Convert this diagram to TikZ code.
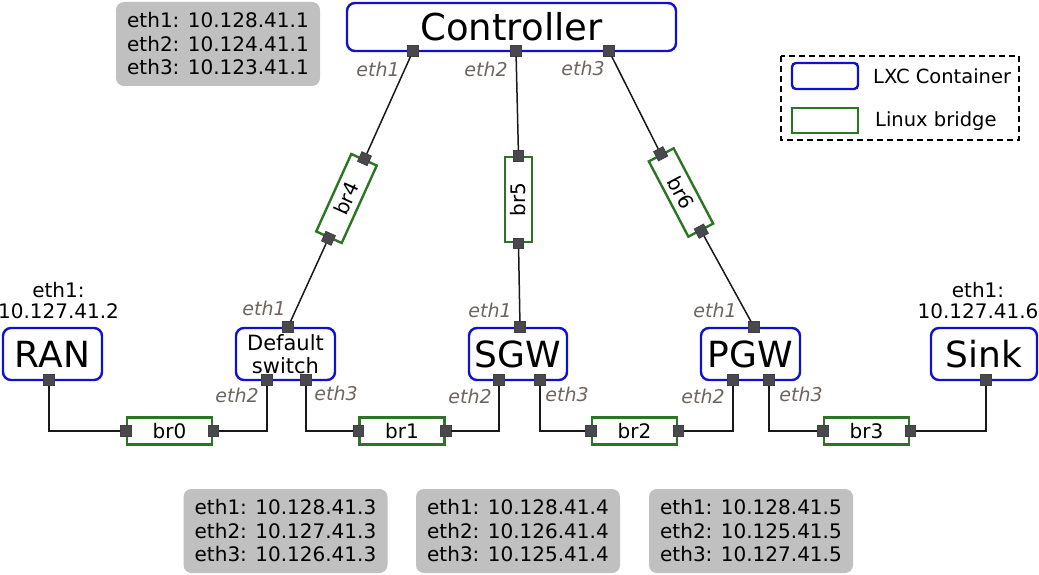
\documentclass[tikz,border=0pt]{standalone}
\usepackage{fontspec}
\setmainfont{DejaVu Sans}
\usetikzlibrary{calc}
\definecolor{lxcblue}{RGB}{16,16,208}
\definecolor{brgreen}{RGB}{42,118,36}
\definecolor{ethcol}{RGB}{110,100,94}
\definecolor{infogray}{RGB}{192,192,192}
\definecolor{portfill}{RGB}{72,72,78}
\tikzset{
  lxc/.style={draw=lxcblue, line width=2.4pt, rounded corners=8pt, inner sep=0pt, minimum height=52pt, align=center},
  bridge/.style={draw=brgreen, line width=2.4pt, minimum width=85pt, minimum height=27pt, inner sep=0pt, font=\fontsize{20}{24}\selectfont},
  port/.style={fill=portfill, draw=black!75, line width=0.8pt, minimum size=10.5pt, inner sep=0pt},
  ethlbl/.style={text=ethcol, font=\fontsize{19}{22}\selectfont\itshape, inner sep=0pt},
  info/.style={fill=infogray, rounded corners=8pt, minimum width=204pt, minimum height=84pt, align=left, font=\fontsize{20}{23.5}\selectfont, inner sep=0pt},
  addr/.style={align=center, font=\fontsize{20}{21}\selectfont, inner sep=0pt},
  wire/.style={draw=black!90, line width=1.5pt},
  legtxt/.style={anchor=west, font=\fontsize{19.5}{22}\selectfont, inner sep=0pt}
}
\begin{document}
\begin{tikzpicture}[x=1pt,y=-1pt]
\useasboundingbox (0,0) rectangle (1039,575);

% info boxes
\node[info] (i0) at (218,44) {eth1: 10.128.41.1\\eth2: 10.124.41.1\\eth3: 10.123.41.1};
\node[info] (i1) at (285.5,531) {eth1: 10.128.41.3\\eth2: 10.127.41.3\\eth3: 10.126.41.3};
\node[info] (i2) at (518,531) {eth1: 10.128.41.4\\eth2: 10.126.41.4\\eth3: 10.125.41.4};
\node[info] (i3) at (751,531) {eth1: 10.128.41.5\\eth2: 10.125.41.5\\eth3: 10.127.41.5};

% containers
\node[lxc, minimum width=329pt, minimum height=48pt, font=\fontsize{37}{40}\selectfont] (ctrl) at (511.5,27) {Controller};
\node[lxc, minimum width=99pt, font=\fontsize{36}{40}\selectfont] (ran) at (52.5,354) {RAN};
\node[lxc, minimum width=99pt, font=\fontsize{21}{23}\selectfont] (ds) at (285.5,354) {Default\\switch};
\node[lxc, minimum width=98pt, font=\fontsize{36}{40}\selectfont] (sgw) at (518,354) {SGW};
\node[lxc, minimum width=99pt, font=\fontsize{36}{40}\selectfont] (pgw) at (750.5,354) {PGW};
\node[lxc, minimum width=106pt, font=\fontsize{36}{40}\selectfont] (sink) at (984,354) {Sink};

\node[addr] (ranaddr) at (58.5,301) {eth1:\\10.127.41.2};
\node[addr] (sinkaddr) at (978,301) {eth1:\\10.127.41.6};

% bridges
\node[bridge] (br0) at (169.5,431) {br0};
\node[bridge] (br1) at (402,431) {br1};
\node[bridge] (br2) at (634.5,431) {br2};
\node[bridge] (br3) at (866.5,431) {br3};
\node[bridge, minimum height=28pt, rotate=65.64] (br4) at (346.5,198.5) {br4};
\node[bridge, rotate=90] (br5) at (518.5,199.5) {br5};
\node[bridge, minimum height=28pt, rotate=-62.28] (br6) at (681,192.5) {br6};

% container ports
\node[port] (c1) at (413,51) {};
\node[port] (c2) at (516,51) {};
\node[port] (c3) at (609,51) {};
\node[port] (r1) at (49,380) {};
\node[port] (d1) at (288,327) {};
\node[port] (d2) at (267,380) {};
\node[port] (d3) at (306,380) {};
\node[port] (s1) at (520,327) {};
\node[port] (s2) at (499,380) {};
\node[port] (s3) at (540,380) {};
\node[port] (p1) at (754,327) {};
\node[port] (p2) at (733,380) {};
\node[port] (p3) at (769,380) {};
\node[port] (k1) at (986,380) {};

% bridge ports
\node[port] (b0w) at (br0.west) {};
\node[port] (b0e) at (br0.east) {};
\node[port] (b1w) at (br1.west) {};
\node[port] (b1e) at (br1.east) {};
\node[port] (b2w) at (br2.west) {};
\node[port] (b2e) at (br2.east) {};
\node[port] (b3w) at (br3.west) {};
\node[port] (b3e) at (br3.east) {};
\node[port, rotate=65.64] (b4w) at (br4.west) {};
\node[port, rotate=65.64] (b4e) at (br4.east) {};
\node[port] (b5w) at (br5.west) {};
\node[port] (b5e) at (br5.east) {};
\node[port, rotate=-62.28] (b6w) at (br6.west) {};
\node[port, rotate=-62.28] (b6e) at (br6.east) {};

% wires
\draw[wire] (c1) -- (b4e);
\draw[wire] (b4w) -- (d1);
\draw[wire] (c2) -- (b5e);
\draw[wire] (b5w) -- (s1);
\draw[wire] (c3) -- (b6w);
\draw[wire] (b6e) -- (p1);
\draw[wire] (r1) |- (b0w);
\draw[wire] (d2) |- (b0e);
\draw[wire] (d3) |- (b1w);
\draw[wire] (s2) |- (b1e);
\draw[wire] (s3) |- (b2w);
\draw[wire] (p2) |- (b2e);
\draw[wire] (p3) |- (b3w);
\draw[wire] (k1) |- (b3e);

% eth labels
\node[ethlbl] (lc1) at (378,69) {eth1};
\node[ethlbl] (lc2) at (486,69) {eth2};
\node[ethlbl] (lc3) at (583,68) {eth3};
\node[ethlbl] (ld1) at (264,308) {eth1};
\node[ethlbl] (ld2) at (237,395) {eth2};
\node[ethlbl] (ld3) at (336,393) {eth3};
\node[ethlbl] (ls1) at (490,310) {eth1};
\node[ethlbl] (ls2) at (470,396) {eth2};
\node[ethlbl] (ls3) at (567,394) {eth3};
\node[ethlbl] (lp1) at (715,310) {eth1};
\node[ethlbl] (lp2) at (703,396) {eth2};
\node[ethlbl] (lp3) at (801,394) {eth3};

% legend
\draw[line width=1.6pt, dash pattern=on 6pt off 4pt] (781,56) rectangle (1019,140);
\node[draw=lxcblue, line width=2.4pt, rounded corners=4pt, minimum width=66pt, minimum height=26pt, inner sep=0pt] (legl) at (825,76) {};
\node[draw=brgreen, line width=2.4pt, minimum width=66pt, minimum height=25pt, inner sep=0pt] (legb) at (825,120.5) {};
\node[legtxt] (legltxt) at (873,76) {LXC Container};
\node[legtxt] (legbtxt) at (875,121) {Linux bridge};
\end{tikzpicture}
\end{document}
